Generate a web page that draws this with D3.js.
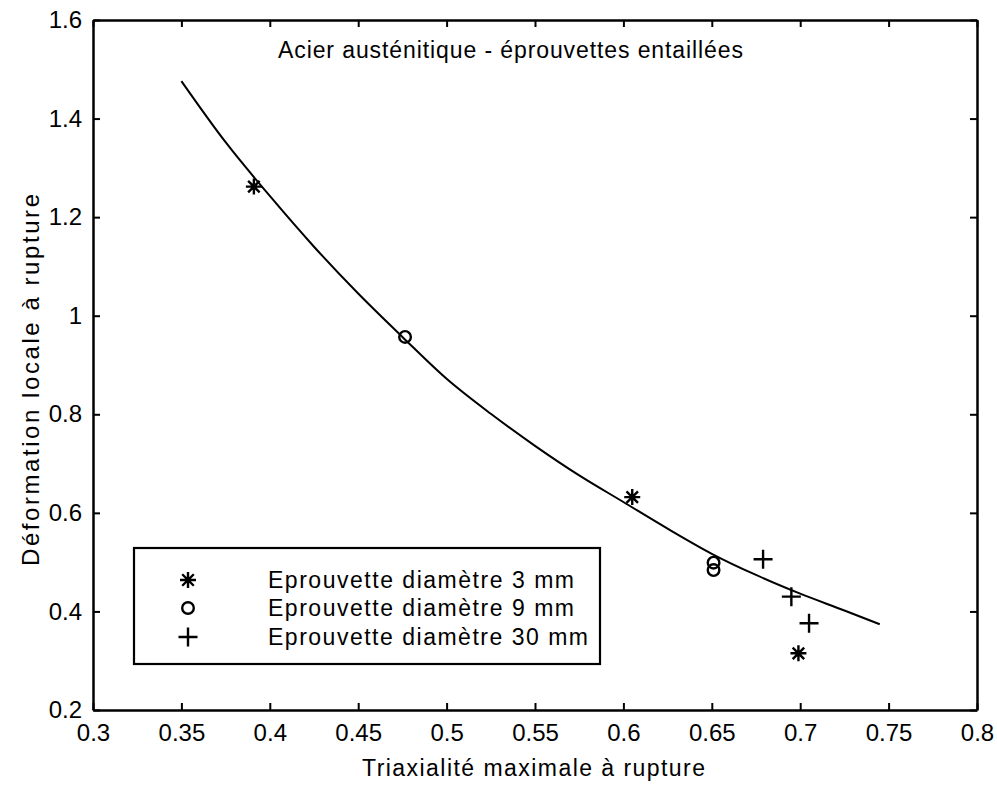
<!DOCTYPE html>
<html>
<head>
<meta charset="utf-8">
<script src="https://cdn.jsdelivr.net/npm/d3@7"></script>
<style>
  html, body { margin: 0; padding: 0; background: #fff; }
  svg { display: block; }
  text { font-family: "Liberation Sans", Arial, Helvetica, sans-serif; fill: #000; }
</style>
</head>
<body>
<svg id="chart" width="997" height="787"></svg>
<script>
// Axis ticks
const xTickValues = [0.3, 0.35, 0.4, 0.45, 0.5, 0.55, 0.6, 0.65, 0.7, 0.75, 0.8];
const xTickLabels = ["0.3", "0.35", "0.4", "0.45", "0.5", "0.55", "0.6", "0.65", "0.7", "0.75", "0.8"];
const yTickValues = [0.2, 0.4, 0.6, 0.8, 1.0, 1.2, 1.4, 1.6];
const yTickLabels = ["0.2", "0.4", "0.6", "0.8", "1", "1.2", "1.4", "1.6"];

// Measured specimens: triaxiality (x) and local strain at rupture (y)
const d3mmX = [0.391, 0.605, 0.699];
const d3mmY = [1.262, 0.632, 0.315];
const d9mmX = [0.4765, 0.651, 0.651];
const d9mmY = [0.957, 0.499, 0.484];
const d30mmX = [0.679, 0.695, 0.705];
const d30mmY = [0.506, 0.430, 0.376];

// Fitted rupture curve
const fitX = [0.35, 0.375, 0.40, 0.425, 0.45, 0.475, 0.50, 0.525, 0.55, 0.575, 0.60, 0.625, 0.65, 0.675, 0.70, 0.725, 0.745];
const fitY = [1.476, 1.352, 1.243, 1.140, 1.045, 0.957, 0.872, 0.801, 0.736, 0.676, 0.622, 0.568, 0.517, 0.474, 0.436, 0.402, 0.374];

const seriesNames = ["Eprouvette diamètre 3 mm", "Eprouvette diamètre 9 mm", "Eprouvette diamètre 30 mm"];
const seriesMarkers = ["asterisk", "circle", "plus"];

const titleText = "Acier austénitique - éprouvettes entaillées";
const xLabelText = "Triaxialité maximale à rupture";
const yLabelText = "Déformation locale à rupture";

const svg = d3.select("#chart");
const x = d3.scaleLinear().domain([0.3, 0.8]).range([93, 977]);
const y = d3.scaleLinear().domain([0.2, 1.6]).range([710, 20]);

// Marker path builders (stroked)
function markerPath(kind, s) {
  const p = d3.path();
  if (kind === "plus") {
    p.moveTo(-s, 0); p.lineTo(s, 0);
    p.moveTo(0, -s); p.lineTo(0, s);
  } else if (kind === "asterisk") {
    p.moveTo(-s, 0); p.lineTo(s, 0);
    p.moveTo(0, -s); p.lineTo(0, s);
    const d = s * 0.72;
    p.moveTo(-d, -d); p.lineTo(d, d);
    p.moveTo(-d, d); p.lineTo(d, -d);
  } else {
    p.moveTo(s, 0); p.arc(0, 0, s, 0, 2 * Math.PI);
  }
  return p.toString();
}
const markerSize = { asterisk: 8, circle: 5.8, plus: 9.5 };

// Axes (box with inward ticks)
function styleAxis(g) {
  g.selectAll("path.domain").attr("stroke", "#000").attr("stroke-width", 2.5);
  g.selectAll(".tick line").attr("stroke", "#000").attr("stroke-width", 2);
  g.selectAll(".tick text").attr("font-size", 24).attr("font-family", "Liberation Sans, Arial, sans-serif").attr("fill", "#000");
}

svg.append("g")
  .attr("transform", `translate(0,${y(0.2)})`)
  .call(d3.axisBottom(x).tickValues(xTickValues).tickFormat((d, i) => xTickLabels[i])
    .tickSize(-7).tickSizeOuter(0).tickPadding(14))
  .call(styleAxis);

svg.append("g")
  .attr("transform", `translate(0,${y(1.6)})`)
  .call(d3.axisTop(x).tickValues(xTickValues).tickFormat("").tickSize(-7).tickSizeOuter(0))
  .call(styleAxis);

svg.append("g")
  .attr("transform", `translate(${x(0.3)},0)`)
  .call(d3.axisLeft(y).tickValues(yTickValues).tickFormat((d, i) => yTickLabels[i])
    .tickSize(-7).tickSizeOuter(0).tickPadding(11))
  .call(styleAxis);

svg.append("g")
  .attr("transform", `translate(${x(0.8)},0)`)
  .call(d3.axisRight(y).tickValues(yTickValues).tickFormat("").tickSize(-7).tickSizeOuter(0))
  .call(styleAxis);

// Fitted curve
const fitPts = fitX.map((v, i) => [v, fitY[i]]);
svg.append("path")
  .datum(fitPts)
  .attr("fill", "none")
  .attr("stroke", "#000")
  .attr("stroke-width", 2)
  .attr("d", d3.line().x(d => x(d[0])).y(d => y(d[1])).curve(d3.curveMonotoneX));

// Data markers
const series = [
  { xs: d3mmX, ys: d3mmY, marker: seriesMarkers[0] },
  { xs: d9mmX, ys: d9mmY, marker: seriesMarkers[1] },
  { xs: d30mmX, ys: d30mmY, marker: seriesMarkers[2] }
];
series.forEach(s => {
  svg.append("g").selectAll("path")
    .data(s.xs.map((v, i) => [v, s.ys[i]]))
    .join("path")
    .attr("transform", d => `translate(${x(d[0])},${y(d[1])})`)
    .attr("d", markerPath(s.marker, markerSize[s.marker]))
    .attr("fill", "none")
    .attr("stroke", "#000")
    .attr("stroke-width", 2.4);
});

// Title
svg.append("text")
  .attr("x", 278).attr("y", 58)
  .attr("font-size", 23)
  .attr("textLength", 465).attr("lengthAdjust", "spacing")
  .text(titleText);

// Axis labels
svg.append("text")
  .attr("x", 362).attr("y", 776)
  .attr("font-size", 23)
  .attr("textLength", 343).attr("lengthAdjust", "spacing")
  .text(xLabelText);

svg.append("text")
  .attr("transform", "translate(39,566) rotate(-90)")
  .attr("font-size", 24)
  .attr("textLength", 372).attr("lengthAdjust", "spacing")
  .text(yLabelText);

// Legend
const legend = svg.append("g");
legend.append("rect")
  .attr("x", 134).attr("y", 548).attr("width", 466).attr("height", 116)
  .attr("fill", "#fff").attr("stroke", "#000").attr("stroke-width", 2.2);
const rowY = [580, 608, 637];
const rowLen = [306, 306, 320];
seriesNames.forEach((name, i) => {
  legend.append("path")
    .attr("transform", `translate(188,${rowY[i]})`)
    .attr("d", markerPath(seriesMarkers[i], markerSize[seriesMarkers[i]]))
    .attr("fill", "none").attr("stroke", "#000").attr("stroke-width", 2.4);
  legend.append("text")
    .attr("x", 268).attr("y", rowY[i] + 8)
    .attr("font-size", 23)
    .attr("textLength", rowLen[i]).attr("lengthAdjust", "spacing")
    .text(name);
});
</script>
</body>
</html>
